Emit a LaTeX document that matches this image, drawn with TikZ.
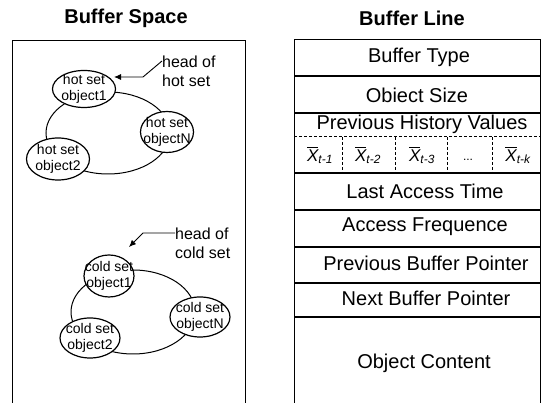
\documentclass[tikz,border=0pt]{standalone}
\usepackage{fontspec}
\setmainfont{Liberation Sans}
\usepackage{amsmath}
\usetikzlibrary{shapes.geometric,arrows.meta}
\begin{document}
\begin{tikzpicture}[x=1pt,y=1pt,
  title/.style={font=\fontsize{20}{24}\selectfont\bfseries, inner sep=0pt},
  rowtext/.style={font=\fontsize{20}{24}\selectfont, inner sep=0pt},
  frame/.style={line width=0.9pt},
  sep/.style={line width=1.4pt},
  dsep/.style={line width=1pt, dash pattern=on 3pt off 2pt},
  obj/.style={ellipse, draw, fill=white, line width=1.2pt, inner sep=0pt},
  objtext/.style={font=\fontsize{14}{16}\selectfont, align=center, inner sep=0pt},
  headtext/.style={font=\fontsize{16}{19}\selectfont, align=left, inner sep=0pt, anchor=west},
  ring/.style={line width=1pt},
  arr/.style={line width=0.9pt, -{Latex[length=7pt,width=6pt]}},
  xlab/.style={font=\fontsize{17}{20}\selectfont, inner sep=0pt}
]
\useasboundingbox (0,0) rectangle (545,403);

% titles
\node[title] (t1) at (126,385) {Buffer Space};
\node[title] (t2) at (412,385) {Buffer Line};

% ---------- Buffer Space ----------
\draw[frame] (12,0) -- (12,363) -- (245,363) -- (245,0);

% hot set
\coordinate (hring) at (108,270);
\draw[ring] (hring) ellipse [x radius=62pt, y radius=41pt];
\node[obj, minimum width=63pt, minimum height=37pt] (h1) at (84,314) {};
\node[objtext] (h1t) at (h1) {hot set\\object1};
\node[obj, minimum width=53pt, minimum height=41pt] (hN) at (167,271) {};
\node[objtext] (hNt) at (hN) {hot set\\objectN};
\node[obj, minimum width=63pt, minimum height=42pt] (h2) at (58,244) {};
\node[objtext] (h2t) at (h2) {hot set\\object2};
\node[headtext] (hh) at (162,332) {head of\\hot set};
\coordinate (hb) at (143,326);
\coordinate (htip) at (114,326);
\draw[arr] ([yshift=10pt]hh.west) -- (hb) -- (htip);

% cold set
\coordinate (cring) at (133,91);
\draw[ring] (cring) ellipse [x radius=62pt, y radius=42pt];
\node[obj, minimum width=50pt, minimum height=42pt] (c1) at (109,127) {};
\node[objtext] (c1t) at (c1) {cold set\\object1};
\node[obj, minimum width=60pt, minimum height=40pt] (cN) at (200,86) {};
\node[objtext] (cNt) at (cN) {cold set\\objectN};
\node[obj, minimum width=60pt, minimum height=40pt] (c2) at (90,65) {};
\node[objtext] (c2t) at (c2) {cold set\\object2};
\node[headtext] (ch) at (175,160) {head of\\cold set};
\coordinate (cb) at (143,170);
\coordinate (ctip) at (129,156);
\draw[arr] ([yshift=10pt]ch.west) -- (cb) -- (ctip);

% ---------- Buffer Line ----------
\draw[frame] (294,0) -- (294,364) -- (540,364) -- (540,0);
\foreach \yy in {327,290,230,193,156,120,86}
  \draw[sep] (294,\yy) -- (540,\yy);
\draw[dsep] (294,266) -- (540,266);
\foreach \xx in {342,395,447,492}
  \draw[dsep] (\xx,266) -- (\xx,230);

\node[rowtext] (r1) at (419,346) {Buffer Type};
\node[rowtext] (r2) at (417,308) {Obiect Size};
\node[rowtext] (r3) at (422,279) {Previous History Values};
\node[xlab] (x1) at (320,248) {$\overline{\text{\itshape X}}_{\text{\itshape t-1}}$};
\node[xlab] (x2) at (368,248) {$\overline{\text{\itshape X}}_{\text{\itshape t-2}}$};
\node[xlab] (x3) at (422,248) {$\overline{\text{\itshape X}}_{\text{\itshape t-3}}$};
\node[font=\fontsize{12}{14}\selectfont, inner sep=0pt] (x4) at (468,243) {...};
\node[xlab] (x5) at (518,248) {$\overline{\text{\itshape X}}_{\text{\itshape t-k}}$};
\node[rowtext] (r4) at (425,212) {Last Access Time};
\node[rowtext] (r5) at (425,176) {Access Frequence};
\node[rowtext] (r6) at (426,140) {Previous Buffer Pointer};
\node[rowtext] (r7) at (426,105) {Next Buffer Pointer};
\node[rowtext] (r8) at (424,40) {Object Content};
\end{tikzpicture}
\end{document}
